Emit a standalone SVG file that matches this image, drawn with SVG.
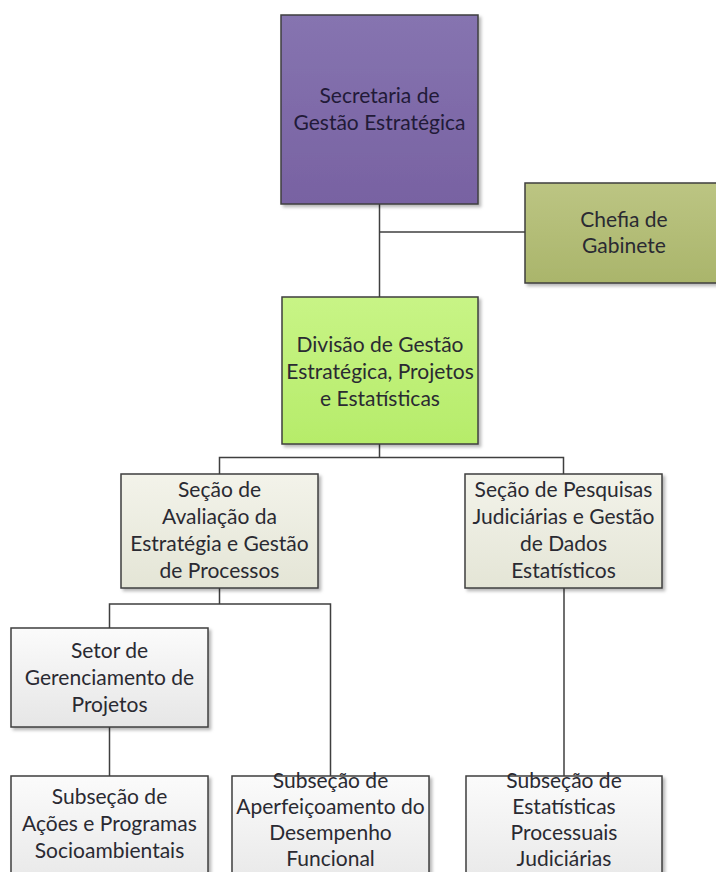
<svg xmlns="http://www.w3.org/2000/svg" width="716" height="872" viewBox="0 0 716 872">
<defs>
  <linearGradient id="gPurple" x1="0" y1="0" x2="0" y2="1">
    <stop offset="0" stop-color="#8674b0"/>
    <stop offset="1" stop-color="#7862a2"/>
  </linearGradient>
  <linearGradient id="gOlive" x1="0" y1="0" x2="0" y2="1">
    <stop offset="0" stop-color="#bcc583"/>
    <stop offset="1" stop-color="#aab56b"/>
  </linearGradient>
  <linearGradient id="gGreen" x1="0" y1="0" x2="0" y2="1">
    <stop offset="0" stop-color="#c8f486"/>
    <stop offset="1" stop-color="#b6ec6a"/>
  </linearGradient>
  <linearGradient id="gBeige" x1="0" y1="0" x2="0" y2="1">
    <stop offset="0" stop-color="#f3f3ea"/>
    <stop offset="1" stop-color="#e4e5d6"/>
  </linearGradient>
  <linearGradient id="gGrey" x1="0" y1="0" x2="0" y2="1">
    <stop offset="0" stop-color="#fbfbfb"/>
    <stop offset="1" stop-color="#e6e6e6"/>
  </linearGradient>
  <filter id="shadow" x="-10%" y="-10%" width="125%" height="125%">
    <feDropShadow dx="2.5" dy="2.5" stdDeviation="1.5" flood-color="#000" flood-opacity="0.28"/>
  </filter>
</defs>
<style>
  .box { stroke: #3f3f3f; stroke-width: 1.5; filter: url(#shadow); }
  .lbl { font-family: Lato, "Liberation Sans", sans-serif; font-size: 21px; text-anchor: middle; fill: #2a2a32; }
  .lblp { fill: #221a38; }
  .conn { stroke: #3f3f3f; stroke-width: 1.5; fill: none; }
</style>
<rect width="716" height="872" fill="#ffffff"/>

<g id="connectors">
  <path class="conn" d="M379.5,204 V297"/>
  <path class="conn" d="M379.5,232 H525"/>
  <path class="conn" d="M379.5,444 V457.5 M219.5,474 V457.5 H563.5 V474"/>
  <path class="conn" d="M219.5,588 V604 M109.5,628 V604 H330.5 V776"/>
  <path class="conn" d="M109.5,727 V776"/>
  <path class="conn" d="M564,588 V776"/>
</g>

<g id="secretaria">
  <rect class="box" x="281" y="15" width="197" height="189" fill="url(#gPurple)"/>
  <text class="lbl lblp" x="379.5" y="103">Secretaria de</text>
  <text class="lbl lblp" x="379.5" y="130">Gestão Estratégica</text>
</g>

<g id="chefia">
  <rect class="box" x="525" y="183" width="197" height="100" fill="url(#gOlive)"/>
  <text class="lbl" x="624" y="227">Chefia de</text>
  <text class="lbl" x="624" y="253">Gabinete</text>
</g>

<g id="divisao">
  <rect class="box" x="282" y="297" width="196" height="147" fill="url(#gGreen)"/>
  <text class="lbl" x="380" y="352">Divisão de Gestão</text>
  <text class="lbl" x="380" y="379">Estratégica, Projetos</text>
  <text class="lbl" x="380" y="406">e Estatísticas</text>
</g>

<g id="secao-avaliacao">
  <rect class="box" x="121" y="474" width="197" height="114" fill="url(#gBeige)"/>
  <text class="lbl" x="219.5" y="497">Seção de</text>
  <text class="lbl" x="219.5" y="524">Avaliação da</text>
  <text class="lbl" x="219.5" y="551">Estratégia e Gestão</text>
  <text class="lbl" x="219.5" y="578">de Processos</text>
</g>

<g id="secao-pesquisas">
  <rect class="box" x="465" y="474" width="197" height="114" fill="url(#gBeige)"/>
  <text class="lbl" x="563.5" y="497">Seção de Pesquisas</text>
  <text class="lbl" x="563.5" y="524">Judiciárias e Gestão</text>
  <text class="lbl" x="563.5" y="551">de Dados</text>
  <text class="lbl" x="563.5" y="578">Estatísticos</text>
</g>

<g id="setor-projetos">
  <rect class="box" x="11" y="628" width="197" height="99" fill="url(#gGrey)"/>
  <text class="lbl" x="109.5" y="658">Setor de</text>
  <text class="lbl" x="109.5" y="685">Gerenciamento de</text>
  <text class="lbl" x="109.5" y="712">Projetos</text>
</g>

<g id="subsecao-acoes">
  <rect class="box" x="11" y="776" width="197" height="120" fill="url(#gGrey)"/>
  <text class="lbl" x="109.5" y="804">Subseção de</text>
  <text class="lbl" x="109.5" y="831">Ações e Programas</text>
  <text class="lbl" x="109.5" y="858">Socioambientais</text>
</g>

<g id="subsecao-aperfeicoamento">
  <rect class="box" x="232" y="776" width="197" height="120" fill="url(#gGrey)"/>
  <text class="lbl" x="330.5" y="788">Subseção de</text>
  <text class="lbl" x="330.5" y="814">Aperfeiçoamento do</text>
  <text class="lbl" x="330.5" y="840">Desempenho</text>
  <text class="lbl" x="330.5" y="866">Funcional</text>
</g>

<g id="subsecao-estatisticas">
  <rect class="box" x="466" y="776" width="196" height="120" fill="url(#gGrey)"/>
  <text class="lbl" x="564" y="788">Subseção de</text>
  <text class="lbl" x="564" y="814">Estatísticas</text>
  <text class="lbl" x="564" y="840">Processuais</text>
  <text class="lbl" x="564" y="866">Judiciárias</text>
</g>
</svg>
